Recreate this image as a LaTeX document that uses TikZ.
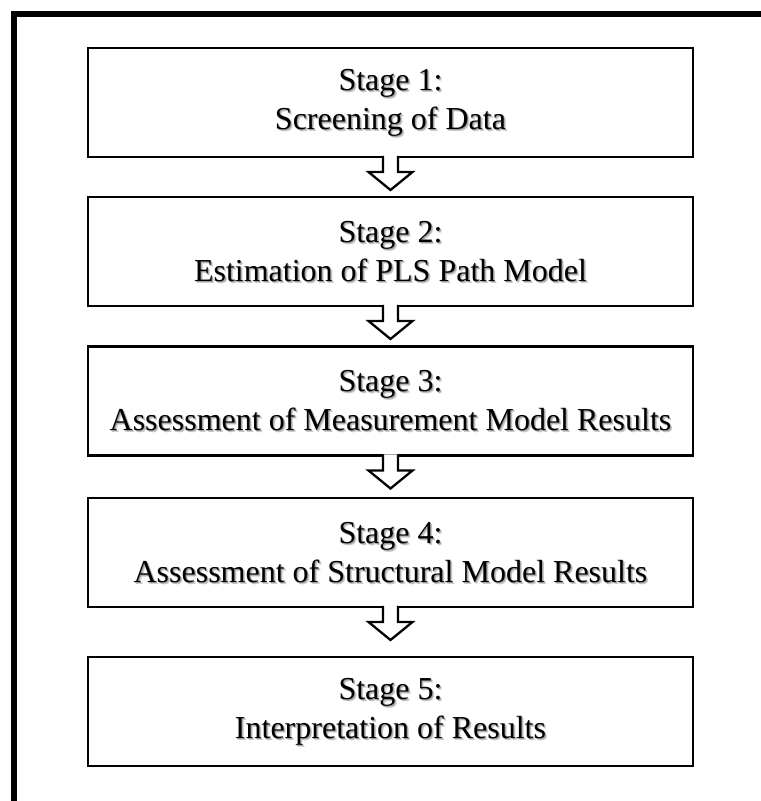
\documentclass[tikz,border=0pt]{standalone}
\usepackage{fontspec}
\setmainfont{Liberation Serif}
\usetikzlibrary{calc}

\tikzset{
  outerframe/.style={line width=5.7bp, line cap=butt, line join=miter},
  stagebox/.style={draw, line width=2.3bp, minimum width=605bp, minimum height=109bp,
                   inner sep=0pt, outer sep=0pt, fill=white},
  stagetext/.style={align=center, inner sep=0pt, font=\fontsize{32bp}{39bp}\selectfont},
  softshadow/.style={stagetext, text=black!20},
  hardshadow/.style={stagetext, text=black!38},
  blockarrow/.style={draw, fill=white, line width=2.3bp, line join=miter},
}

% stage label with a light drop shadow
\newcommand\stagelabel[3]{%
  \node[softshadow] at ($(#1)+(2,2)$) {#3};
  \node[hardshadow] at ($(#1)+(1,1)$) {#3};
  \node[stagetext] (#2) at (#1) {#3};
}

% hollow downward block arrow leaving the bottom of a box
\newcommand\flowarrow[1]{%
  \draw[blockarrow] ($(#1.south)+(-7.5,-1.2)$) -- ($(#1.south)+(-7.5,15)$)
    -- ($(#1.south)+(-22,15)$) -- ($(#1.south)+(0,33)$)
    -- ($(#1.south)+(22,15)$) -- ($(#1.south)+(7.5,15)$)
    -- ($(#1.south)+(7.5,-1.2)$);
}

\begin{document}
\begin{tikzpicture}[x=1bp, y=-1bp]
  \useasboundingbox (0,0) rectangle (761,801);

  % heavy frame along the top and left side
  \draw[outerframe] (13.8,810) -- (13.8,13.8) -- (770,13.8);

  % the five stages
  \node[stagebox] (b1) at (390.5,102.5) {};
  \node[stagebox] (b2) at (390.5,251.5) {};
  \node[stagebox] (b3) at (390.5,401) {};
  \node[stagebox] (b4) at (390.5,552.5) {};
  \node[stagebox] (b5) at (390.5,711.5) {};

  \stagelabel{b1}{t1}{Stage 1:\\Screening of Data}
  \stagelabel{b2}{t2}{Stage 2:\\Estimation of PLS Path Model}
  \stagelabel{b3}{t3}{Stage 3:\\Assessment of Measurement Model Results}
  \stagelabel{b4}{t4}{Stage 4:\\Assessment of Structural Model Results}
  \stagelabel{b5}{t5}{Stage 5:\\Interpretation of Results}

  % arrows between consecutive stages
  \flowarrow{b1}
  \flowarrow{b2}
  \flowarrow{b3}
  \flowarrow{b4}
\end{tikzpicture}
\end{document}
